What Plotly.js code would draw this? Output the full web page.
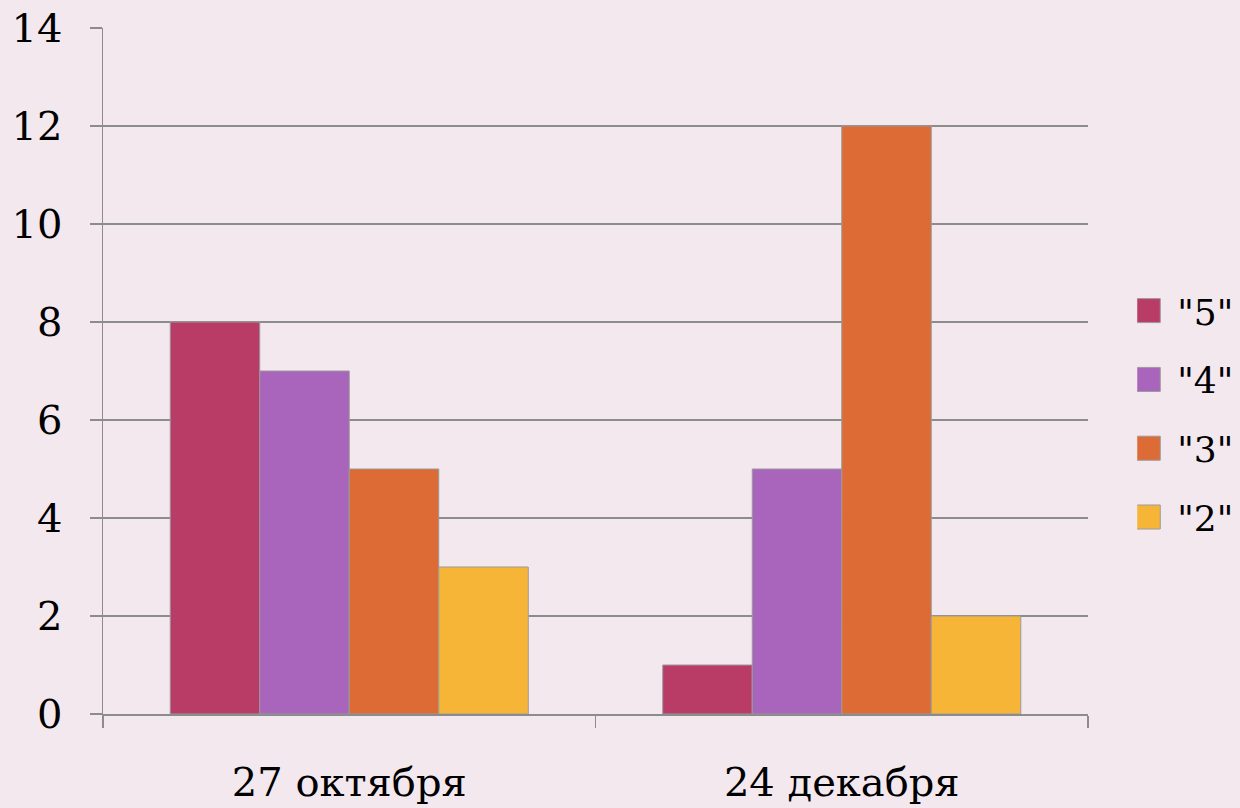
<!DOCTYPE html>
<html>
<head>
<meta charset="utf-8">
<script src="https://cdn.plot.ly/plotly-3.0.1.min.js"></script>
<style>html,body{margin:0;padding:0;background:#f4e8ef;}#chart{width:1240px;height:808px;}</style>
</head>
<body>
<div id="chart"></div>
<script>
const categories = ["27 октября", "24 декабря"];
const seriesNames = ['"5"', '"4"', '"3"', '"2"'];
const grade5 = [8, 1];
const grade4 = [7, 5];
const grade3 = [5, 12];
const grade2 = [3, 2];
const colors = ["#b83c65", "#a865bb", "#dd6b35", "#f7b538"];

const values = [grade5, grade4, grade3, grade2];
const traces = values.map((v, i) => ({
  type: "bar",
  name: seriesNames[i],
  x: categories,
  y: v,
  legendgroup: "g" + i,
  marker: {color: colors[i], line: {color: "#9a9a9a", width: 1}},
  hoverinfo: "x+y+name"
}));

const fontFam = "DejaVu Serif, Liberation Serif, serif";
const layout = {
  width: 1240, height: 808,
  paper_bgcolor: "#f4e8ef",
  plot_bgcolor: "#f4e8ef",
  margin: {l: 103, r: 152, t: 28, b: 94, autoexpand: false},
  barmode: "group",
  bargap: 0.273,
  bargroupgap: 0,
  font: {family: fontFam, color: "#000", size: 40},
  xaxis: {
    type: "category",
    showline: true, linecolor: "#8c8c8c", linewidth: 1.5,
    ticks: "outside", tickson: "boundaries", ticklen: 12, tickcolor: "#8c8c8c", tickwidth: 1.5,
    ticklabelstandoff: 32,
    showgrid: false, zeroline: false,
    automargin: false,
    tickfont: {family: fontFam, size: 40, color: "#000"}
  },
  yaxis: {
    range: [0, 14], dtick: 2, tick0: 0,
    showline: true, linecolor: "#8c8c8c", linewidth: 1.5,
    ticks: "outside", ticklen: 12, tickcolor: "#8c8c8c", tickwidth: 1.5,
    ticklabelstandoff: 19,
    showgrid: true, gridcolor: "#8c8c8c", gridwidth: 1.3,
    zeroline: false,
    automargin: false,
    tickfont: {family: fontFam, size: 40, color: "#000"}
  },
  showlegend: true,
  legend: {
    x: 1.050, xanchor: "left", y: 0.437, yanchor: "middle",
    traceorder: "grouped", tracegroupgap: 19,
    bgcolor: "rgba(0,0,0,0)",
    font: {family: fontFam, size: 36, color: "#000"},
    itemwidth: 30
  }
};

Plotly.newPlot("chart", traces, layout, {displayModeBar: false, staticPlot: true}).then(() => {
  document.querySelectorAll("#chart .legendpoints path").forEach(p => {
    p.setAttribute("d", "M3,12H-21V-12H3Z");
    p.style.strokeWidth = "1px";
  });
});
</script>
</body>
</html>
